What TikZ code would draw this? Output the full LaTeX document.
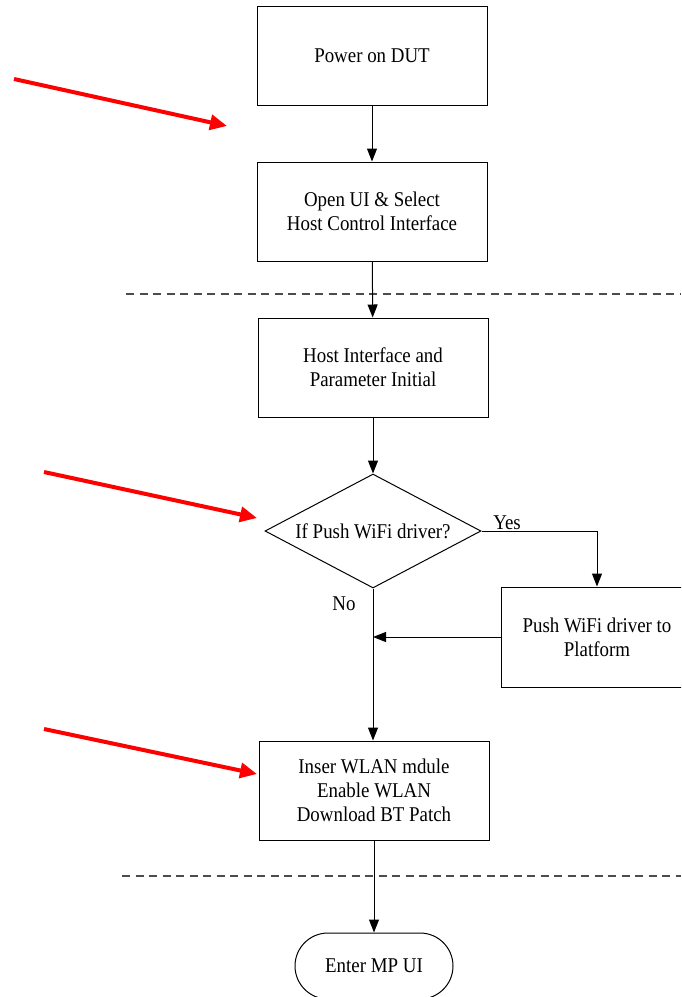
\documentclass[tikz,border=0pt]{standalone}
\usepackage{fontspec}
\setmainfont{Liberation Serif}[FakeStretch=0.9]
\usetikzlibrary{arrows.meta,shapes.geometric}

\tikzset{
  every node/.style={font=\fontsize{21}{24}\selectfont},
  stepbox/.style={draw, line width=1pt, minimum width=230pt, minimum height=99pt,
    inner sep=0pt, align=center},
  decision/.style={draw, diamond, line width=1pt, minimum width=216pt,
    minimum height=114pt, inner sep=0pt, shape aspect=1.9},
  terminal/.style={draw, line width=1pt, rounded corners=33pt,
    minimum width=158pt, minimum height=66pt, inner sep=0pt},
  flow/.style={line width=1pt, -{Triangle[length=13pt,width=10pt]}},
  plain/.style={line width=1pt},
  sep/.style={line width=1.2pt, black!70, dash pattern=on 8pt off 5.5pt},
  marker/.style={red, line width=4pt, -{Triangle[length=17pt,width=15pt]}},
  tag/.style={inner sep=0pt}
}

\begin{document}
\begin{tikzpicture}[x=1pt, y=-1pt]
  \useasboundingbox (0,0) rectangle (681,997);
  \clip (0,0) rectangle (681,997);

  % section separators
  \coordinate (s1a) at (126,294);
  \coordinate (s1b) at (681,294);
  \coordinate (s2a) at (122,876);
  \coordinate (s2b) at (681,876);
  \draw[sep] (s1a) -- (s1b);
  \draw[sep] (s2a) -- (s2b);

  % process steps
  \node[stepbox] (power) at (372,55.5) {Power on DUT};
  \node[stepbox] (openui) at (372,211.5) {Open UI \& Select\\Host Control Interface};
  \node[stepbox] (hostif) at (373,367.5) {Host Interface and\\Parameter Initial};
  \node[decision] (ask) at (373,531) {If Push WiFi driver?};
  \node[stepbox, minimum width=192pt, minimum height=100pt] (push) at (597,637)
    {Push WiFi driver to\\Platform};
  \node[stepbox] (wlan) at (374,790.5) {Inser WLAN mdule\\Enable WLAN\\Download BT Patch};
  \node[terminal] (mpui) at (374,966) {Enter MP UI};

  % branch labels
  \node[tag] (yes) at (507,523) {Yes};
  \node[tag] (no) at (344,604) {No};

  % connectors
  \draw[flow] (power) -- (openui);
  \draw[flow] (openui) -- (hostif);
  \draw[flow] (hostif) -- (ask);
  \draw[flow] (ask.east) -| (push.north);
  \draw[flow] (ask.south) -- (ask.south |- wlan.north);
  \draw[flow] (push.west) -- (ask.south |- push.west);
  \draw[flow] (wlan) -- (mpui);

  % highlight arrows
  \coordinate (m1a) at (14,79);
  \coordinate (m1b) at (227,126);
  \coordinate (m2a) at (44,472);
  \coordinate (m2b) at (257,518);
  \coordinate (m3a) at (44,729);
  \coordinate (m3b) at (257,774);
  \draw[marker] (m1a) -- (m1b);
  \draw[marker] (m2a) -- (m2b);
  \draw[marker] (m3a) -- (m3b);
\end{tikzpicture}
\end{document}
